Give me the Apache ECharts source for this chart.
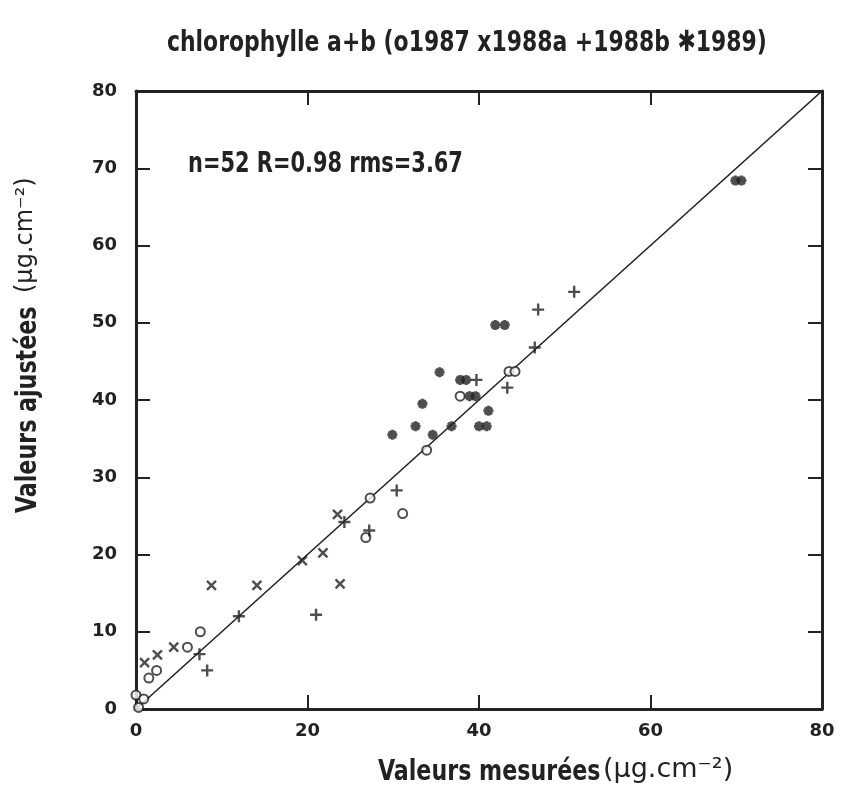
<!DOCTYPE html>
<html>
<head>
<meta charset="utf-8">
<script src="https://cdn.jsdelivr.net/npm/echarts@6/dist/echarts.min.js"></script>
<style>html,body{margin:0;padding:0;background:#fff}#chart{width:844px;height:800px}</style>
</head>
<body>
<div id="chart"></div>
<script>
const data1987 = [[0,1.8],[0.9,1.3],[0.3,0.2],[1.5,4],[2.4,5],[6,8],[7.5,10],[26.8,22.2],[27.3,27.3],[31.1,25.3],[33.9,33.5],[37.8,40.5],[43.5,43.7],[44.2,43.7]];
const data1988a = [[1,6],[2.5,7],[4.4,8],[8.8,16],[14.1,16],[19.4,19.2],[21.8,20.2],[23.8,16.2],[23.5,25.2]];
const data1988b = [[7.4,7.1],[8.3,5],[12,12],[21,12.2],[24.3,24.2],[27.2,23.1],[30.4,28.3],[39.7,42.6],[43.3,41.6],[46.5,46.8],[46.9,51.7],[51.1,54]];
const data1989 = [[29.9,35.5],[32.6,36.6],[34.6,35.5],[36.8,36.6],[40,36.6],[40.9,36.6],[41.1,38.6],[33.4,39.5],[38.9,40.5],[39.6,40.5],[37.8,42.6],[38.5,42.6],[35.4,43.6],[41.9,49.7],[43,49.7],[69.9,68.4],[70.6,68.4]];
const identityLine = [[0,0],[80,80]];
const axisMin = 0, axisMax = 80, xInterval = 20, yInterval = 10;
const titleText = 'chlorophylle a+b (o1987 x1988a +1988b \u27311989)';
const statsText = 'n=52 R=0.98 rms=3.67';
const xName = 'Valeurs mesurées';
const yName = 'Valeurs ajustées';
const unitText = '(\u00B5g.cm\u207B\u00B2)';

const ink = '#222';
const narrow = '"DejaVu Sans Condensed","Liberation Sans Narrow",sans-serif';
const chart = echarts.init(document.getElementById('chart'), null, {renderer:'canvas'});

const baseAxis = {
  min: axisMin, max: axisMax,
  axisLine: {show:true, onZero:false, lineStyle:{color:ink, width:3}},
  axisTick: {show:true, inside:true, length:14, lineStyle:{color:ink, width:2}},
  splitLine: {show:false},
  axisLabel: {color:ink, fontFamily:'"DejaVu Sans",sans-serif', fontWeight:'bold', fontSize:18, margin:13}
};

function narrowText(x, y, text, size, sx, extra) {
  return Object.assign({type:'text', x:x, y:y, scaleX:sx,
    style:{text:text, font:'bold '+size+'px '+narrow, fill:ink, textVerticalAlign:'middle'}}, extra || {});
}

chart.setOption({
  animation:false,
  backgroundColor:'#fff',
  grid:{left:136, right:22, top:91, bottom:91},
  xAxis:[
    Object.assign({}, baseAxis, {type:'value', interval:xInterval, position:'bottom'}),
    Object.assign({}, baseAxis, {type:'value', interval:xInterval, position:'top', axisLabel:{show:false}})
  ],
  yAxis:[
    Object.assign({}, baseAxis, {type:'value', interval:yInterval, position:'left', axisLabel:Object.assign({}, baseAxis.axisLabel, {margin:19})}),
    Object.assign({}, baseAxis, {type:'value', interval:yInterval, position:'right', axisLabel:{show:false}})
  ],
  graphic:[
    narrowText(167, 43, titleText, 29, 0.84),
    narrowText(188, 165, statsText, 28, 0.83),
    narrowText(378, 772, xName, 29, 0.85),
    {type:'text', x:603, y:770, style:{text:unitText, font:'27px "DejaVu Sans",sans-serif', fill:ink, textVerticalAlign:'middle'}},
    {type:'group', x:28, y:513, rotation:Math.PI/2, children:[
      narrowText(0, 0, yName, 29, 0.85),
      {type:'text', x:220, y:-2, style:{text:unitText, font:'24px "DejaVu Sans",sans-serif', fill:ink, textVerticalAlign:'middle'}}
    ]}
  ],
  series:[
    {type:'line', data:identityLine, symbol:'none', lineStyle:{color:ink, width:1.6}, z:1},
    {type:'scatter', name:'1987', data:data1987, symbol:'circle', symbolSize:9,
      itemStyle:{color:'#fff', borderColor:ink, borderWidth:2}, z:3},
    {type:'scatter', name:'1988a', data:data1988a, symbol:'path://M0,0L10,10M10,0L0,10', symbolSize:9,
      itemStyle:{color:ink, borderColor:ink, borderWidth:2.4}, z:3},
    {type:'scatter', name:'1988b', data:data1988b, symbol:'path://M5,0L5,10M0,5L10,5', symbolSize:12,
      itemStyle:{color:ink, borderColor:ink, borderWidth:2.4}, z:3},
    {type:'scatter', name:'1989', data:data1989, symbol:'path://M5,0L5,10M0,5L10,5M1.5,1.5L8.5,8.5M8.5,1.5L1.5,8.5', symbolSize:10,
      itemStyle:{color:ink, borderColor:ink, borderWidth:3}, z:3}
  ]
});
</script>
</body>
</html>
